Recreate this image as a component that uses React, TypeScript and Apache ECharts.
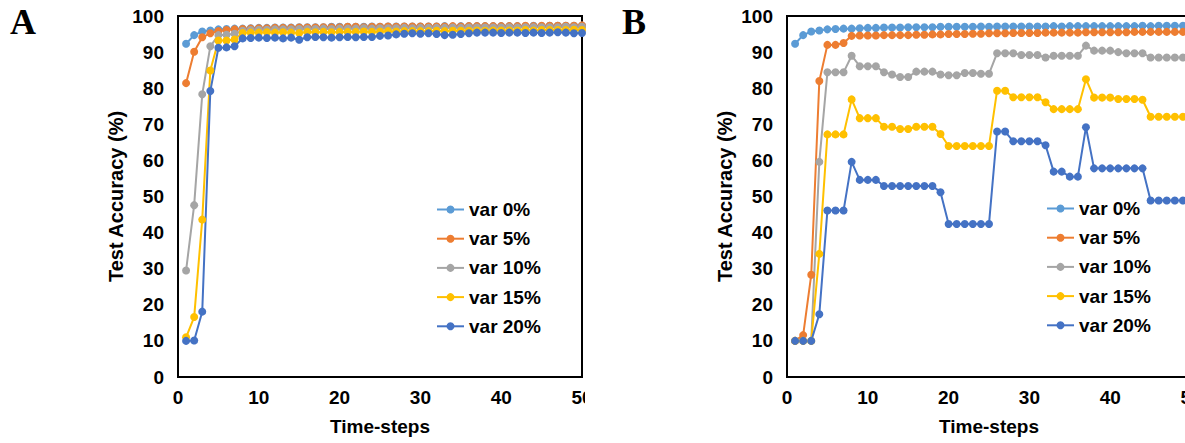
import React, { useEffect, useRef } from "react";
import * as echarts from "echarts";

// Time-steps 1..50 shared by both panels
const timeSteps = [
  1, 2, 3, 4, 5, 6, 7, 8, 9, 10,
  11, 12, 13, 14, 15, 16, 17, 18, 19, 20,
  21, 22, 23, 24, 25, 26, 27, 28, 29, 30,
  31, 32, 33, 34, 35, 36, 37, 38, 39, 40,
  41, 42, 43, 44, 45, 46, 47, 48, 49, 50,
];

const seriesNames = ["var 0%", "var 5%", "var 10%", "var 15%", "var 20%"];
const seriesColors = ["#5B9BD5", "#ED7D31", "#A5A5A5", "#FFC000", "#4472C4"];

// Baseline (no variation) accuracy, identical in both panels
const accVar0 = [
  92.3, 94.7, 95.7, 96.0, 96.3, 96.4, 96.5, 96.5, 96.6, 96.7,
  96.7, 96.8, 96.8, 96.8, 96.9, 96.9, 96.9, 96.9, 97.0, 97.0,
  97.0, 97.0, 97.0, 97.1, 97.0, 97.1, 97.1, 97.1, 97.1, 97.1,
  97.1, 97.1, 97.2, 97.1, 97.2, 97.2, 97.2, 97.2, 97.2, 97.2,
  97.2, 97.2, 97.2, 97.3, 97.2, 97.3, 97.3, 97.3, 97.3, 97.3,
];

// Panel A
const accAVar5 = [
  81.4, 90.1, 94.1, 95.2, 95.8, 96.1, 96.3, 96.4, 96.5, 96.6,
  96.6, 96.7, 96.7, 96.7, 96.8, 96.8, 96.8, 96.9, 96.9, 96.9,
  97.0, 97.0, 96.9, 97.0, 97.0, 97.1, 97.0, 97.1, 97.1, 97.1,
  97.1, 97.1, 97.1, 97.2, 97.1, 97.2, 97.2, 97.2, 97.2, 97.2,
  97.2, 97.2, 97.3, 97.2, 97.3, 97.3, 97.3, 97.3, 97.3, 97.4,
];
const accAVar10 = [
  29.5, 47.6, 78.3, 91.6, 94.7, 94.8, 95.1, 95.9, 96.1, 96.2,
  96.2, 96.3, 96.3, 96.3, 96.4, 96.4, 96.4, 96.5, 96.4, 96.5,
  96.5, 96.5, 96.6, 96.5, 96.6, 96.6, 96.6, 96.7, 96.6, 96.7,
  96.7, 96.7, 96.7, 96.8, 96.7, 96.8, 96.8, 96.8, 96.8, 96.8,
  96.9, 96.8, 96.9, 96.9, 96.9, 96.9, 96.9, 97.0, 96.9, 97.0,
];
const accAVar15 = [
  11.0, 16.6, 43.6, 84.9, 93.2, 93.2, 93.5, 95.3, 95.4, 95.4,
  95.5, 95.4, 95.5, 95.4, 95.3, 95.6, 95.5, 95.6, 95.5, 95.6,
  95.6, 95.6, 95.7, 95.6, 95.7, 95.8, 95.7, 95.8, 95.8, 95.8,
  95.8, 95.9, 95.8, 95.9, 95.9, 95.9, 96.0, 95.9, 96.0, 96.0,
  96.0, 96.0, 96.1, 96.0, 96.1, 96.1, 96.1, 96.1, 96.2, 96.1,
];
const accAVar20 = [
  10.0, 10.1, 18.1, 79.2, 91.2, 91.3, 91.6, 93.8, 93.9, 94.0,
  93.9, 94.0, 93.8, 94.0, 93.4, 94.1, 94.2, 94.1, 94.0, 94.1,
  94.2, 94.1, 94.2, 94.2, 94.5, 94.6, 94.9, 95.1, 95.2, 95.1,
  95.2, 95.0, 94.7, 94.8, 95.0, 95.2, 95.4, 95.4, 95.4, 95.3,
  95.4, 95.4, 95.3, 95.4, 95.3, 95.4, 95.5, 95.4, 95.2, 95.3,
];

// Panel B
const accBVar5 = [
  10.0, 11.6, 28.3, 82.0, 92.0, 92.0, 92.5, 94.5, 94.6, 94.6,
  94.6, 94.7, 94.7, 94.7, 94.7, 94.8, 94.8, 94.9, 94.9, 95.0,
  95.0, 95.0, 95.1, 95.1, 95.2, 95.2, 95.2, 95.3, 95.3, 95.3,
  95.3, 95.4, 95.4, 95.4, 95.4, 95.4, 95.5, 95.5, 95.5, 95.5,
  95.5, 95.5, 95.6, 95.6, 95.6, 95.6, 95.6, 95.6, 95.6, 95.6,
];
const accBVar10 = [
  10.0, 10.0, 10.0, 59.6, 84.4, 84.4, 84.4, 89.0, 86.1, 86.1,
  86.1, 84.4, 83.8, 83.1, 83.1, 84.6, 84.6, 84.6, 83.8, 83.6,
  83.6, 84.2, 84.2, 84.0, 84.0, 89.7, 89.7, 89.7, 89.2, 89.2,
  89.2, 88.5, 89.0, 89.0, 89.0, 89.0, 91.8, 90.4, 90.4, 90.4,
  90.0, 89.7, 89.7, 89.7, 88.5, 88.5, 88.5, 88.5, 88.5, 88.5,
];
const accBVar15 = [
  10.0, 10.0, 10.0, 34.1, 67.2, 67.2, 67.2, 76.9, 71.7, 71.7,
  71.7, 69.3, 69.3, 68.7, 68.7, 69.3, 69.3, 69.3, 67.3, 64.0,
  64.0, 64.0, 64.0, 64.0, 64.0, 79.3, 79.3, 77.5, 77.5, 77.5,
  77.5, 76.1, 74.2, 74.2, 74.2, 74.2, 82.5, 77.4, 77.4, 77.4,
  77.0, 77.0, 77.0, 76.8, 72.1, 72.1, 72.1, 72.1, 72.1, 72.1,
];
const accBVar20 = [
  10.0, 10.0, 10.0, 17.4, 46.1, 46.1, 46.1, 59.6, 54.6, 54.6,
  54.6, 52.9, 52.9, 52.9, 52.9, 52.9, 52.9, 52.9, 51.2, 42.4,
  42.4, 42.4, 42.4, 42.4, 42.4, 68.0, 68.0, 65.3, 65.3, 65.3,
  65.3, 64.2, 56.9, 56.9, 55.5, 55.5, 69.2, 57.8, 57.8, 57.8,
  57.8, 57.8, 57.8, 57.8, 48.9, 48.9, 48.9, 48.9, 48.9, 48.9,
];

const panelA = [accVar0, accAVar5, accAVar10, accAVar15, accAVar20];
const panelB = [accVar0, accBVar5, accBVar10, accBVar15, accBVar20];

const SANS = "'Liberation Sans', Arial, sans-serif";
const boldText = {
  fontFamily: SANS,
  fontWeight: "bold" as const,
  fontSize: 19,
  color: "#000",
};

function makeAxes(left: number) {
  const grid = {
    left,
    top: 16,
    width: 404,
    height: 361,
    show: true,
    borderColor: "#000",
    borderWidth: 2,
    backgroundColor: "transparent",
    outerBoundsMode: "none",
  };
  const xAxis = {
    type: "value",
    min: 0,
    max: 50,
    interval: 10,
    axisLine: { show: true, lineStyle: { color: "#000", width: 2 } },
    axisTick: { show: false },
    splitLine: { show: false },
    axisLabel: { ...boldText, margin: 11 },
    name: "Time-steps",
    nameLocation: "middle",
    nameGap: 40,
    nameTextStyle: { ...boldText },
  };
  const yAxis = {
    type: "value",
    min: 0,
    max: 100,
    interval: 10,
    axisLine: { show: true, lineStyle: { color: "#000", width: 2 } },
    axisTick: { show: false },
    splitLine: { show: false },
    axisLabel: { ...boldText, margin: 14 },
    name: "Test Accuracy (%)",
    nameLocation: "middle",
    nameGap: 52,
    nameRotate: 90,
    nameTextStyle: { ...boldText, fontSize: 20 },
  };
  return { grid, xAxis, yAxis };
}

function makeSeries(values: number[][], axisIndex: number) {
  return values.map((vals, i) => ({
    name: seriesNames[i],
    type: "line",
    xAxisIndex: axisIndex,
    yAxisIndex: axisIndex,
    data: vals.map((v, k) => [timeSteps[k], v]),
    symbol: "circle",
    symbolSize: 8,
    showSymbol: true,
    lineStyle: { color: seriesColors[i], width: 2 },
    itemStyle: { color: seriesColors[i] },
    emphasis: { disabled: true },
  }));
}

function makeLegend(left: number, top: number) {
  return {
    left,
    top,
    orient: "vertical",
    itemWidth: 27,
    itemHeight: 10,
    itemGap: 10.2,
    selectedMode: false,
    data: seriesNames,
    textStyle: { ...boldText, lineHeight: 18 },
  };
}

export default function App() {
  const ref = useRef<HTMLDivElement>(null);

  useEffect(() => {
    if (!ref.current) return;
    const chart = echarts.init(ref.current, null, { renderer: "svg" });
    const a = makeAxes(178);
    const b = makeAxes(787);
    const option = {
      animation: false,
      backgroundColor: "#fff",
      grid: [a.grid, b.grid],
      xAxis: [
        { ...a.xAxis, gridIndex: 0 },
        { ...b.xAxis, gridIndex: 1 },
      ],
      yAxis: [
        { ...a.yAxis, gridIndex: 0 },
        { ...b.yAxis, gridIndex: 1 },
      ],
      legend: [makeLegend(431, 195), makeLegend(1041, 194)],
      series: [...makeSeries(panelA, 0), ...makeSeries(panelB, 1)],
      graphic: [
        {
          type: "rect",
          z: 100,
          shape: { x: 585, y: 380, width: 34, height: 63 },
          style: { fill: "#fff" },
        },
        {
          type: "text",
          z: 100,
          x: 10,
          y: 22,
          style: {
            text: "A",
            fontFamily: "'Liberation Serif', 'Times New Roman', serif",
            fontWeight: "bold",
            fontSize: 36,
            fill: "#000",
            verticalAlign: "middle",
          },
        },
        {
          type: "text",
          z: 100,
          x: 622,
          y: 22,
          style: {
            text: "B",
            fontFamily: "'Liberation Serif', 'Times New Roman', serif",
            fontWeight: "bold",
            fontSize: 36,
            fill: "#000",
            verticalAlign: "middle",
          },
        },
      ],
    };
    chart.setOption(option as any);
    return () => chart.dispose();
  }, []);

  return (
    <div
      ref={ref}
      style={{ position: "absolute", left: 0, top: 0, width: 1185, height: 443 }}
    />
  );
}
